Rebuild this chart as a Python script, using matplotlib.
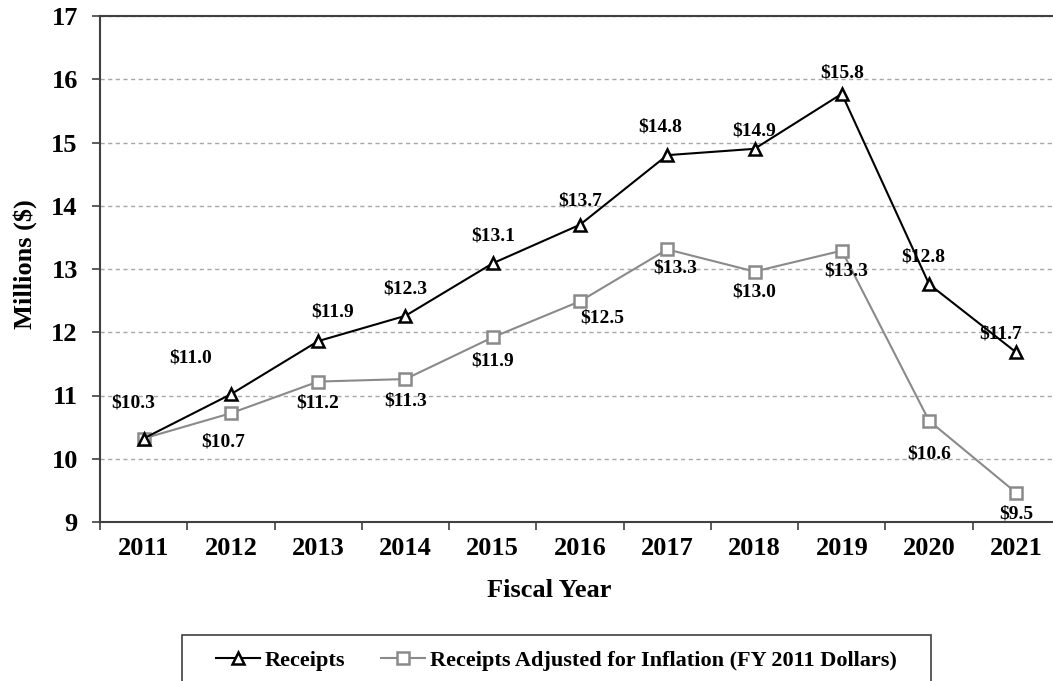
import matplotlib
matplotlib.use("Agg")
import matplotlib.pyplot as plt
from matplotlib.patches import Rectangle
import numpy as np

plt.rcParams['font.family'] = ['Liberation Serif', 'DejaVu Serif']
plt.rcParams['font.weight'] = 'bold'

years = ['2011', '2012', '2013', '2014', '2015', '2016', '2017', '2018', '2019', '2020', '2021']
receipts = [10.32, 11.02, 11.86, 12.26, 13.09, 13.70, 14.80, 14.90, 15.77, 12.76, 11.68]
adjusted = [10.32, 10.72, 11.22, 11.26, 11.92, 12.49, 13.31, 12.96, 13.29, 10.60, 9.46]

# label offsets in pixels (dx, dy); None = no label
rec_off = [(-10, 36), (-40, 36), (14, 29), (0, 27), (0, 27), (0, 24),
           (-7, 28), (0, 18), (0, 21), (-6, 27), (-16, 18)]
adj_off = [None, (-8, -29), (0, -21), (0, -22), (0, -24), (22, -17),
           (8, -19), (0, -20), (4, -20), (0, -33), (0, -21)]

axis_col = '#404040'
gray = '#8a8a8a'

fig = plt.figure(figsize=(10.53, 6.81), dpi=100)
ax = fig.add_axes([100 / 1053, 1 - 522 / 681, 960 / 1053, 506 / 681])

x = np.arange(len(years))
ax.plot(x, receipts, color='black', lw=1.5, marker='^', ms=9,
        mfc='white', mec='black', mew=1.8, label='Receipts', zorder=4)
ax.plot(x, adjusted, color=gray, lw=1.5, marker='s', ms=9,
        mfc='white', mec=gray, mew=1.8,
        label='Receipts Adjusted for Inflation (FY 2011 Dollars)', zorder=3)

for xi, v, off in zip(x, receipts, rec_off):
    if off is None:
        continue
    ax.annotate(f'${v:.1f}', (xi, v), xytext=off, textcoords='offset pixels',
                ha='center', va='center', fontsize=14, fontweight='bold', zorder=5)
for xi, v, off in zip(x, adjusted, adj_off):
    if off is None:
        continue
    ax.annotate(f'${v:.1f}', (xi, v), xytext=off, textcoords='offset pixels',
                ha='center', va='center', fontsize=14, fontweight='bold', zorder=5)

ax.set_xlim(-0.5, len(years) - 0.5)
ax.set_ylim(9, 17)
ax.set_yticks(range(9, 18))
ax.yaxis.grid(True, color='#a8a8a8', lw=1, linestyle=(0, (3, 2.5)))
ax.set_axisbelow(True)

# boundary ticks between years, labels centred on each year
ax.set_xticks(np.arange(-0.5, len(years)), labels=[])
ax.set_xticks(x, labels=years, minor=True)
ax.tick_params(axis='x', which='major', length=6, width=1.2, color=axis_col, direction='out')
ax.tick_params(axis='x', which='minor', length=0, labelsize=19, pad=11)
ax.tick_params(axis='y', length=6, width=1.2, color=axis_col, labelsize=19, pad=10)

for side in ['left', 'bottom', 'top']:
    ax.spines[side].set_color(axis_col)
    ax.spines[side].set_linewidth(1.5)
ax.spines['right'].set_visible(False)

ax.set_ylabel('Millions ($)', fontsize=19, fontweight='bold')
ax.yaxis.set_label_coords(-0.066, 0.51)
ax.set_xlabel('Fiscal Year', fontsize=19, fontweight='bold')
ax.xaxis.set_label_coords(0.468, -0.113)

leg = fig.legend(loc='upper left', bbox_to_anchor=(216 / 1053, 1 - 650 / 681),
                 ncol=2, frameon=False, fontsize=16, borderpad=0, borderaxespad=0,
                 handlelength=2.0, handletextpad=0.2, columnspacing=1.6)
for t in leg.get_texts():
    t.set_fontweight('bold')
fig.add_artist(Rectangle((182 / 1053, -0.02), (931 - 182) / 1053, (681 - 635) / 681 + 0.02,
                         transform=fig.transFigure, fill=False, edgecolor=axis_col, lw=1.2))

fig.savefig('out.png', dpi=100)
